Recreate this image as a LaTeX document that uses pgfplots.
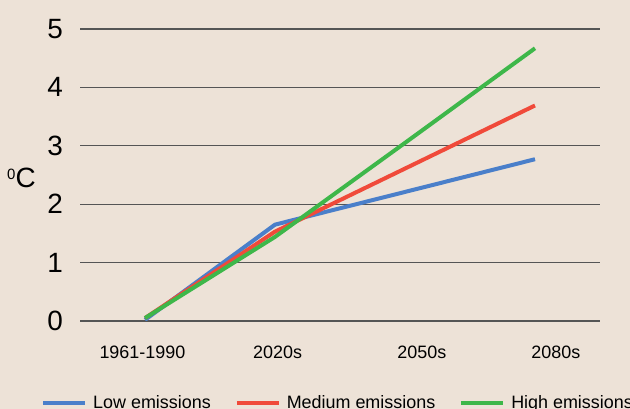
\documentclass[border=0pt]{standalone}
\usepackage{fontspec}
\setmainfont{Liberation Sans}
\usepackage{pgfplots}
\pgfplotsset{compat=1.18}

\definecolor{paper}{RGB}{237,226,215}
\definecolor{gridgray}{RGB}{85,85,85}
\definecolor{lowblue}{RGB}{74,127,202}
\definecolor{medred}{RGB}{240,74,58}
\definecolor{highgreen}{RGB}{62,183,74}

\begin{document}
\begin{tikzpicture}
% page = 630 x 409 bp, background paper colour
\path[use as bounding box, fill=paper] (0bp,0bp) rectangle (630bp,409bp);
\begin{axis}[
    at={(80bp,88bp)}, anchor=south west,
    scale only axis, width=520bp, height=292bp,
    xmin=-0.5, xmax=3.5, ymin=0, ymax=5,
    axis line style={draw=none},
    tick style={draw=none},
    ymajorgrids,
    grid style={draw=gridgray, line width=1.3bp},
    ytick={0,1,2,3,4,5},
    /pgf/number format/assume math mode=true,
    yticklabel style={font=\fontsize{28}{28}\selectfont, inner sep=0pt, xshift=-17bp},
    xtick={-0.02,1.02,2.13,3.16},
    xticklabels={1961-1990,2020s,2050s,2080s},
    xticklabel style={font=\fontsize{18}{18}\selectfont, inner sep=0pt, anchor=north, yshift=-25bp},
    ylabel={\raisebox{8bp}{\fontsize{15}{15}\selectfont 0}C},
    every axis y label/.style={at={(rel axis cs:0,0.49)}, anchor=west, xshift=-73bp,
        inner sep=0pt, font=\fontsize{28}{28}\selectfont},
    legend columns=-1,
    legend style={at={(rel axis cs:0,0)}, anchor=west, xshift=-39bp, yshift=-82bp,
        draw=none, fill=none, inner sep=0pt,
        font=\fontsize{18}{18}\selectfont,
        /tikz/every odd column/.append style={column sep=4bp},
        /tikz/every even column/.append style={column sep=22bp}},
    legend image code/.code={\draw[#1] (0bp,0bp) -- (42bp,0bp);},
]
\addplot[color=lowblue, line width=4bp] coordinates {(0,0.02) (1,1.65) (2,2.21) (3,2.77)};
\addlegendentry{Low emissions}
\addplot[color=medred, line width=4bp] coordinates {(0,0.05) (1,1.53) (2,2.61) (3,3.69)};
\addlegendentry{Medium emissions}
\addplot[color=highgreen, line width=4bp] coordinates {(0,0.05) (1,1.44) (2,3.05) (3,4.67)};
\addlegendentry{High emissions}
\end{axis}
\end{tikzpicture}
\end{document}
